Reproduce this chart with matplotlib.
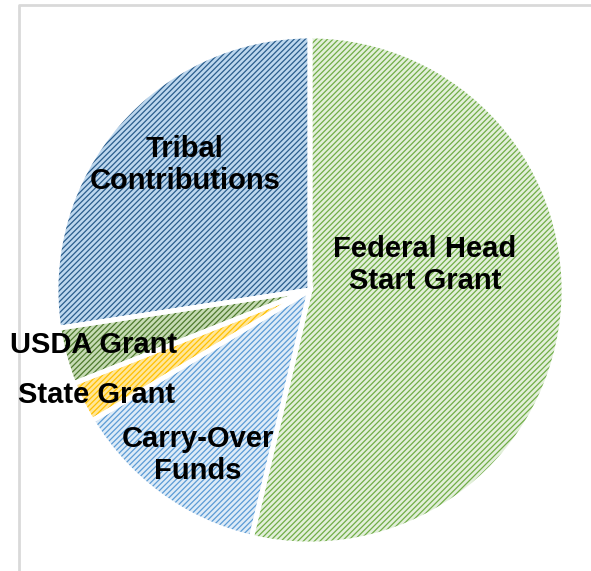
import matplotlib
matplotlib.use("Agg")
import matplotlib.pyplot as plt

# Datos del grafico
categorias = ["Federal Head\nStart Grant", "Carry-Over\nFunds", "State Grant",
              "USDA Grant", "Tribal\nContributions"]
valores = [53.7, 12.7, 2.6, 3.6, 27.4]

colores_fondo = ["#e2efda", "#ddebf7", "#ffe699", "#c6dbb4", "#bdd7ee"]
colores_trama = ["#70ad47", "#5b9bd5", "#ffc000", "#4e7a2e", "#2a5d8c"]

# posiciones de las etiquetas (pixeles)
pos_etiquetas = [(425, 265), (198, 455), (97, 395), (94, 345), (185, 165)]

#-----------------------------------------------------------------#

plt.rcParams['font.family'] = ['Liberation Sans', 'DejaVu Sans']
plt.rcParams['hatch.linewidth'] = 0.9

fig = plt.figure(figsize=(5.91, 5.71), dpi=100)
ax = fig.add_axes([0, 0, 1, 1])

H = 571
centro = (310, H - 290)
radio = 254

# relleno
ax.pie(valores, colors=colores_fondo, startangle=90, counterclock=False,
       center=centro, radius=radio, wedgeprops=dict(linewidth=0))

# trama
wedges, _ = ax.pie(valores, colors=colores_fondo, startangle=90, counterclock=False,
                   center=centro, radius=radio, wedgeprops=dict(linewidth=0))
for w, c in zip(wedges, colores_trama):
    w.set_facecolor('none')
    w.set_edgecolor(c)
    w.set_hatch('//////')

# bordes blancos
bordes, _ = ax.pie(valores, startangle=90, counterclock=False,
                   center=centro, radius=radio,
                   wedgeprops=dict(linewidth=3.5, edgecolor='white', facecolor='none'))

# etiquetas
for texto, (x, y) in zip(categorias, pos_etiquetas):
    ax.text(x, H - y, texto, ha='center', va='center', fontsize=21,
            fontweight='bold', color='black', linespacing=1.15)

# marco gris
ax.plot([19, 19, 591], [0, H - 5, H - 5], color='#d9d9d9', linewidth=2)

ax.set_xlim(0, 591)
ax.set_ylim(0, H)
ax.set_aspect('auto')
ax.axis('off')

fig.savefig("out.png", dpi=100)
